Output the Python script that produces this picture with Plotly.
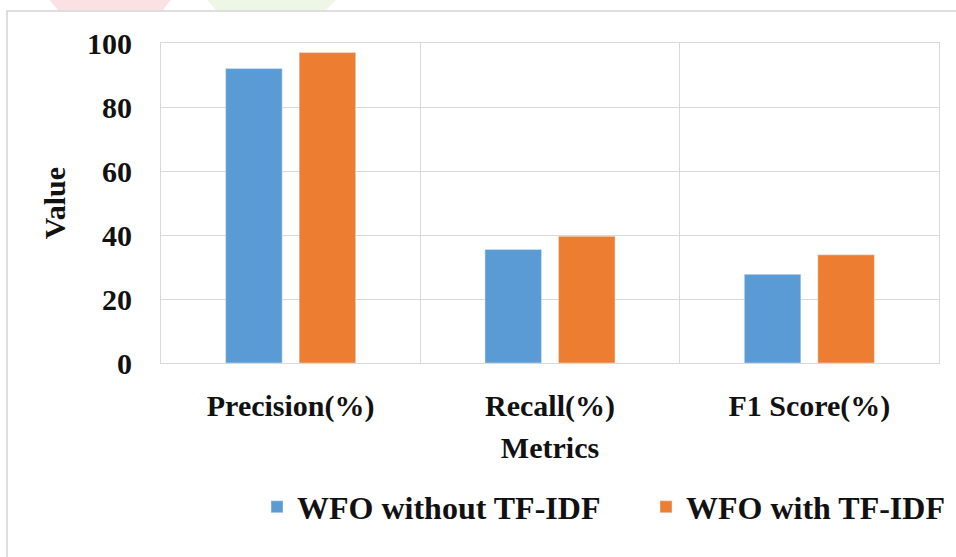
import plotly.graph_objects as go

categories = ["Precision(%)", "Recall(%)", "F1 Score(%)"]
without_tfidf = [92, 35.5, 27.7]
with_tfidf = [97, 39.6, 33.8]
series_names = ["WFO without TF-IDF", "WFO with TF-IDF"]
y_ticks = [0, 20, 40, 60, 80, 100]

FONT = dict(family="Liberation Serif", size=30, color="#111111", weight="bold")
LEGEND_FONT = dict(family="Liberation Serif", size=32, color="#111111", weight="bold")
GRID = "#d9d9d9"

fig = go.Figure()
fig.add_trace(go.Bar(x=categories, y=without_tfidf, name=series_names[0], marker_color="#5b9bd5"))
fig.add_trace(go.Bar(x=categories, y=with_tfidf, name=series_names[1], marker_color="#ed7d31"))

W, H = 956, 557
L, R, T, B = 161, 939, 43, 363
pw, ph = R - L, B - T

def px(x):
    return (x - L) / pw

def py(y):
    return (B - y) / ph

shapes = [
    dict(type="rect", xref="paper", yref="paper", x0=px(7), x1=px(975), y0=py(11), y1=py(590),
         line=dict(color="#d4d4d4", width=1.5), fillcolor="rgba(0,0,0,0)", layer="below"),
    dict(type="path", xref="paper", yref="paper",
         path=f"M {px(48)} {py(-2)} L {px(172)} {py(-2)} L {px(163)} {py(10)} L {px(58)} {py(10)} Z",
         fillcolor="#fbe1e4", line=dict(width=0), layer="below"),
    dict(type="path", xref="paper", yref="paper",
         path=f"M {px(205)} {py(-2)} L {px(338)} {py(-2)} L {px(326)} {py(10)} L {px(216)} {py(10)} Z",
         fillcolor="#eef7e6", line=dict(width=0), layer="below"),
]

fig.update_layout(
    width=W, height=H,
    margin=dict(l=L, r=W - R, t=T, b=H - B, autoexpand=False),
    paper_bgcolor="white", plot_bgcolor="white",
    font=FONT,
    barmode="group", bargap=0.433, bargroupgap=0.231,
    showlegend=True,
    legend=dict(orientation="h", x=px(646), xanchor="center", y=py(507), yanchor="middle",
                font=LEGEND_FONT, bgcolor="rgba(0,0,0,0)", itemwidth=30, tracegroupgap=0,
                entrywidth=344),
    shapes=shapes,
)

fig.update_xaxes(
    tickson="boundaries", showgrid=True, gridcolor=GRID, gridwidth=1,
    showline=True, linecolor=GRID, linewidth=1, mirror=True,
    ticks="", ticklabelstandoff=16,
    tickfont=FONT,
    title=dict(text="Metrics", font=FONT, standoff=14),
)
fig.update_yaxes(
    range=[0, 100], tickvals=y_ticks, showgrid=True, gridcolor=GRID, gridwidth=1,
    showline=True, linecolor=GRID, linewidth=1, mirror=True, zeroline=False,
    ticks="outside", ticklen=22, tickcolor="rgba(0,0,0,0)",
    tickfont=FONT,
    title=dict(text="Value", font=FONT, standoff=12),
)

fig.write_html("out.html", config={"displayModeBar": False},
               post_script="document.body.style.margin='0';")
